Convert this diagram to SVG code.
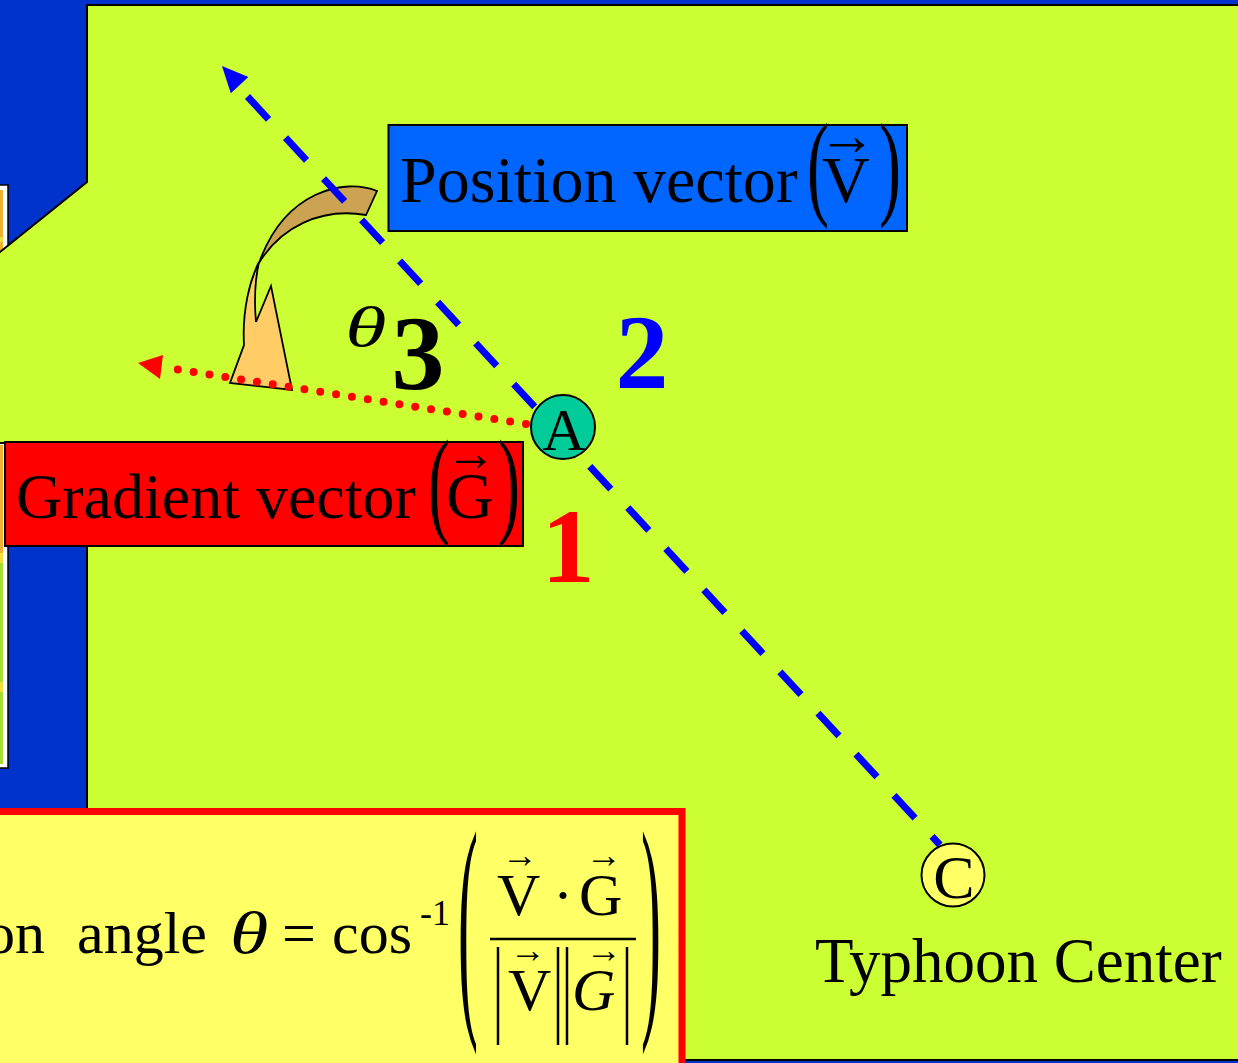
<svg xmlns="http://www.w3.org/2000/svg" width="1238" height="1063" viewBox="0 0 1238 1063">
<defs>
<style>
.t{font-family:"Liberation Serif","Times New Roman",serif;fill:#000}
.big{font-size:66px}
.g64{font-size:64px}
.f60{font-size:60px}
.num{font-size:106px;font-weight:bold;text-anchor:middle;font-family:"Liberation Serif","Times New Roman",serif}
.it{font-style:italic}
.mid{text-anchor:middle}
.bar{stroke:#000;stroke-width:2.5}
</style>
</defs>
<rect width="1238" height="1063" fill="#0033CC"/>
<g id="side-panels">
<rect x="-10" y="185" width="18" height="80" fill="#fff" stroke="#000" stroke-width="1.5"/>
<rect x="-5" y="190" width="8" height="75" fill="#F0B030"/>
<rect x="-5" y="237" width="8" height="5" fill="#F0E040"/>
<rect x="-10" y="442" width="18" height="326" fill="#fff" stroke="#000" stroke-width="1.5"/>
<rect x="-5" y="445" width="8" height="108" fill="#F0B030"/>
<rect x="-5" y="553" width="8" height="10" fill="#F0E040"/>
<rect x="-5" y="563" width="8" height="119" fill="#AADD33"/>
<rect x="-5" y="682" width="8" height="10" fill="#F0E040"/>
<rect x="-5" y="692" width="8" height="72" fill="#AADD33"/>
</g>
<polygon id="field" points="87,5 1245,5 1245,1060 87,1060 87,443 -5,443 -5,256 87,182" fill="#CCFF33" stroke="#000" stroke-width="2"/>
<g id="connectors">
<g id="angle-arrow" stroke="#000" stroke-width="1.8" stroke-linejoin="miter">
<path d="M259,262 C250,280 242,310 244,345 L230,383 L292,390 L271,286 L256,322 C254,300 255,280 259,262 Z" fill="#FFCC66"/>
<path d="M377,191 C345,178 285,190 259,263 C280,228 320,207 366,215 Z" fill="#CCA352"/>
</g>
<path id="position-line" d="M247.5,96.5 L940,845" stroke="#0000FF" stroke-width="7" stroke-dasharray="31 25" fill="none"/>
<polygon points="222,66 230.8,93.2 248.4,77" fill="#0000FF"/>
<path id="gradient-line" d="M526,424 L162,367" stroke="#FF0000" stroke-width="8" stroke-linecap="round" stroke-dasharray="0 16.02" fill="none"/>
<polygon points="138,363 163,355 160,379" fill="#FF0000"/>
</g>
<g id="position-vector">
<rect x="388.5" y="125" width="518.5" height="106" fill="#0066FF" stroke="#000" stroke-width="2"/>
<text class="t big" x="400" y="202">Position vector</text>
<text class="t big" transform="translate(807,204) scale(1,1.75)">(</text>
<text class="t big" x="822" y="202">V</text>
<text class="t mid" font-size="58" x="847" y="155">→</text>
<text class="t big" transform="translate(879,204) scale(1,1.75)">)</text>
</g>
<g id="gradient-vector">
<rect x="5" y="442" width="518" height="104" fill="#FF0000" stroke="#000" stroke-width="2"/>
<text class="t g64" x="16" y="518">Gradient vector</text>
<text class="t big" transform="translate(428,522) scale(1,1.8)">(</text>
<text class="t big" x="446" y="518">G</text>
<text class="t mid" font-size="50" x="471" y="470">→</text>
<text class="t big" transform="translate(498,522) scale(1,1.8)">)</text>
</g>
<g id="node-A">
<circle cx="563" cy="427" r="32" fill="#00CC99" stroke="#000" stroke-width="2"/>
<text class="t mid" font-size="60" x="564" y="450">A</text>
</g>
<g id="node-C">
<circle cx="953" cy="875" r="31.5" fill="#FFFF66" stroke="#000" stroke-width="2"/>
<text class="t mid" font-size="62" x="954" y="898">C</text>
<text class="t" font-size="63" x="815" y="982">Typhoon Center</text>
</g>
<g id="labels">
<text class="num" x="568" y="582" style="fill:#FF0000">1</text>
<text class="num" x="642" y="388" style="fill:#0000FF">2</text>
<text class="num" x="418" y="389" style="fill:#000">3</text>
<text class="t it mid" font-size="56" transform="translate(366,346) scale(1.5,1)">θ</text>
</g>
<g id="formula">
<rect x="-10" y="811.5" width="692" height="260" fill="#FFFF66" stroke="#FF0000" stroke-width="7"/>
<text class="t f60" x="-15" y="953">on</text>
<text class="t f60" x="77" y="953">angle</text>
<text class="t f60 it" transform="translate(230,953) scale(1.3,1)">θ</text>
<text class="t f60" x="282" y="953">=</text>
<text class="t f60" x="332" y="953">cos</text>
<text class="t" font-size="36" x="420" y="925">-1</text>
<text class="t f60" transform="translate(458,1002) scale(1,4.1)">(</text>
<text class="t f60" transform="translate(641,1002) scale(1,4.1)">)</text>
<text class="t f60" x="497" y="915">V</text>
<text class="t mid" font-size="36" x="520" y="867">→</text>
<text class="t f60 mid" x="563" y="915">·</text>
<text class="t f60" x="579" y="915">G</text>
<text class="t mid" font-size="36" x="604" y="867">→</text>
<line class="bar" x1="490" y1="939" x2="636" y2="939"/>
<line class="bar" x1="498" y1="947" x2="498" y2="1045"/>
<text class="t f60" x="508" y="1010">V</text>
<text class="t mid" font-size="36" x="528" y="962">→</text>
<line class="bar" x1="558" y1="947" x2="558" y2="1045"/>
<line class="bar" x1="567" y1="947" x2="567" y2="1045"/>
<text class="t f60 it" x="572" y="1010">G</text>
<text class="t mid" font-size="36" x="604" y="962">→</text>
<line class="bar" x1="627" y1="947" x2="627" y2="1045"/>
</g>
</svg>
